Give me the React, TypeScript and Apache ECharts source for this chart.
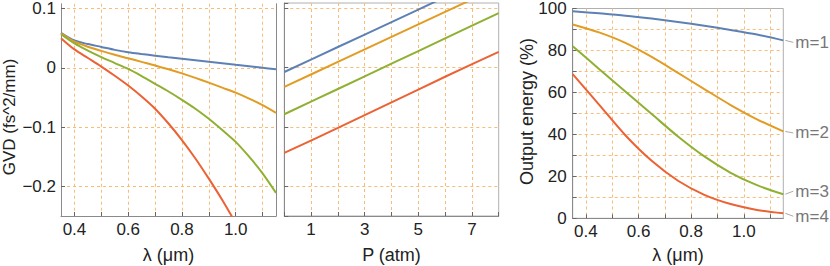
import React, { useEffect, useRef } from "react";
import * as echarts from "echarts";

// ---- data ----
const lambdaGvd = [0.35, 0.4, 0.45, 0.5, 0.55, 0.6, 0.65, 0.7, 0.75, 0.8, 0.85, 0.9, 0.95, 1.0, 1.05, 1.1, 1.15];
const gvdM1 = [0.059, 0.046, 0.04, 0.0352, 0.0302, 0.0262, 0.0232, 0.0205, 0.0178, 0.0152, 0.0127, 0.0102, 0.0077, 0.0052, 0.0027, 0.0001, -0.0026];
const gvdM2 = [0.058, 0.044, 0.0355, 0.0285, 0.022, 0.016, 0.01, 0.004, -0.0025, -0.0095, -0.017, -0.025, -0.0335, -0.042, -0.052, -0.063, -0.076];
const gvdM3 = [0.0565, 0.041, 0.029, 0.018, 0.008, -0.002, -0.014, -0.027, -0.04, -0.054, -0.069, -0.086, -0.105, -0.125, -0.15, -0.178, -0.211];
const gvdM4 = [0.05, 0.031, 0.0165, 0.002, -0.0135, -0.03, -0.0485, -0.069, -0.094, -0.122, -0.153, -0.187, -0.223, -0.262, -0.303];

const pressure = [0, 2, 4, 6, 8];
const pM1 = [-0.008, 0.034, 0.076, 0.118, 0.16];
const pM2 = [-0.033, 0.009, 0.051, 0.093, 0.135];
const pM3 = [-0.079, -0.0365, 0.006, 0.0485, 0.091];
const pM4 = [-0.144, -0.102, -0.059, -0.016, 0.026];

const lambdaEnergy = [0.35, 0.45, 0.55, 0.65, 0.75, 0.85, 0.95, 1.05, 1.15];
const energyM1 = [98.7, 97.7, 96.6, 95.2, 93.6, 91.8, 89.8, 87.6, 84.8];
const energyM2 = [92.4, 88.6, 83.6, 76.9, 69.3, 61.6, 54.0, 47.2, 41.4];
const energyM3 = [82.0, 71.2, 60.4, 49.7, 39.0, 29.5, 21.7, 15.8, 11.5];
const energyM4 = [68.7, 54.2, 39.6, 27.4, 17.9, 11.2, 6.8, 4.0, 2.4];

const modeLabels = ["m=1", "m=2", "m=3", "m=4"];
const labelDy = [2, 1.5, -3, 3];

const titleGVD = "GVD (fs^2/mm)";
const titleLambda = "\u03bb (\u03bcm)";
const titleP = "P (atm)";
const titleEnergy = "Output energy (%)";

const colors = ["#5E81B5", "#E19C24", "#8FB032", "#EB6235"];
const gridColor = "#F8BC78";
const frameColor = "#8a8a8a";
const font = "Liberation Sans, Arial, sans-serif";

const pairs = (xs: number[], ys: number[]) => ys.map((y, i) => [xs[i], y]);
const isMult = (v: number, step: number) => {
  const q = v / step;
  return Math.abs(q - Math.round(q)) < 1e-6;
};
const fmtNum = (v: number, d: number) => {
  const s = Math.abs(v) < 1e-9 ? "0" : Math.abs(v).toFixed(d);
  return v < -1e-9 ? "\u2212" + s : s;
};

export default function App() {
  const ref = useRef<HTMLDivElement>(null);
  useEffect(() => {
    if (!ref.current) return;
    const chart = echarts.init(ref.current, undefined, { renderer: "svg" });

    const splitLine = {
      show: true,
      showMinLine: false,
      showMaxLine: false,
      lineStyle: { color: gridColor, type: [3, 3] as any, width: 1 },
    };
    const axisLine = { show: true, onZero: false, lineStyle: { color: frameColor, width: 1 } };
    const axisTick = { show: true, inside: true, length: 4, lineStyle: { color: "#666" } };
    const tickLabel = { color: "#222", fontSize: 17, fontFamily: font };

    const lineSeries = (data: number[][], c: string, xi: number, yi: number) => ({
      type: "line",
      xAxisIndex: xi,
      yAxisIndex: yi,
      data,
      showSymbol: false,
      symbol: "none",
      smooth: 0.3,
      clip: true,
      lineStyle: { color: c, width: 2 },
      itemStyle: { color: c },
    });

    const gvdSets = [gvdM1, gvdM2, gvdM3, gvdM4];
    const pSets = [pM1, pM2, pM3, pM4];
    const eSets = [energyM1, energyM2, energyM3, energyM4];

    const series: any[] = [];
    gvdSets.forEach((s, i) => series.push(lineSeries(pairs(lambdaGvd, s), colors[i], 0, 0)));
    pSets.forEach((s, i) => series.push(lineSeries(pairs(pressure, s), colors[i], 1, 2)));
    eSets.forEach((s, i) => series.push(lineSeries(pairs(lambdaEnergy, s), colors[i], 2, 3)));

    const lambdaAxis = (gi: number) => ({
      type: "value",
      gridIndex: gi,
      min: 0.35,
      max: 1.15,
      splitNumber: 8,
      axisLine,
      axisTick,
      splitLine,
      axisLabel: {
        ...tickLabel,
        margin: 5,
        showMinLabel: false,
        showMaxLabel: false,
        formatter: (v: number) => (isMult(v, 0.2) && v > 0.36 && v < 1.14 ? v.toFixed(1) : ""),
      },
    });

    chart.setOption({
      animation: false,
      grid: [
        { left: 61, top: 3, width: 215, height: 213, show: false },
        { left: 284.3, top: 3, width: 214.4, height: 213, show: true, borderColor: "#b0b0b0", borderWidth: 1 },
        { left: 572.7, top: 7, width: 210.6, height: 211.3, show: true, borderColor: "#b0b0b0", borderWidth: 1 },
      ],
      xAxis: [
        lambdaAxis(0),
        {
          type: "value",
          gridIndex: 1,
          min: 0,
          max: 8,
          interval: 1,
          axisLine,
          axisTick,
          splitLine,
          axisLabel: {
            ...tickLabel,
            margin: 5,
            formatter: (v: number) => (Math.round(v) % 2 === 1 ? String(Math.round(v)) : ""),
          },
        },
        lambdaAxis(2),
      ],
      yAxis: [
        {
          type: "value",
          gridIndex: 0,
          min: -0.25,
          max: 0.108,
          axisLine,
          axisTick,
          splitLine,
          axisLabel: {
            ...tickLabel,
            margin: 5,
            showMinLabel: false,
            showMaxLabel: false,
            formatter: (v: number) => (isMult(v, 0.1) ? fmtNum(v, 1) : ""),
          },
        },
        {
          type: "value",
          gridIndex: 0,
          position: "right",
          min: -0.25,
          max: 0.108,
          axisLine,
          axisTick: { show: false },
          axisLabel: { show: false },
          splitLine: { show: false },
        },
        {
          type: "value",
          gridIndex: 1,
          min: -0.25,
          max: 0.108,
          axisLine,
          axisTick,
          splitLine,
          axisLabel: { show: false },
        },
        {
          type: "value",
          gridIndex: 2,
          min: 0,
          max: 100,
          interval: 10,
          axisLine,
          axisTick,
          splitLine,
          axisLabel: {
            ...tickLabel,
            margin: 6,
            formatter: (v: number) => (Math.round(v) % 20 === 0 ? String(Math.round(v)) : ""),
          },
        },
      ],
      series,
    });

    const titleStyle = (text: string, size: number) => ({
      text,
      fill: "#222",
      fontSize: size,
      fontFamily: font,
      align: "center",
      verticalAlign: "middle",
    });

    const graphics: any[] = [
      { type: "text", x: 9, y: 117, rotation: Math.PI / 2, style: titleStyle(titleGVD, 17) },
      { type: "text", x: 526.5, y: 111.5, rotation: Math.PI / 2, style: titleStyle(titleEnergy, 18) },
      { type: "text", x: 168.5, y: 255, style: titleStyle(titleLambda, 18) },
      { type: "text", x: 391.5, y: 255, style: titleStyle(titleP, 18) },
      { type: "text", x: 678, y: 255, style: titleStyle(titleLambda, 18) },
    ];
    eSets.forEach((s, i) => {
      const last = s.length - 1;
      const p = chart.convertToPixel({ gridIndex: 2 }, [lambdaEnergy[last], s[last]]) as number[];
      const ty = p[1] + labelDy[i];
      graphics.push({
        type: "line",
        shape: { x1: p[0] + 2, y1: p[1], x2: p[0] + 10, y2: ty },
        style: { stroke: "#aaa", lineWidth: 1 },
      });
      graphics.push({
        type: "text",
        x: p[0] + 12,
        y: ty,
        style: {
          text: modeLabels[i],
          fill: "#777",
          fontSize: 17,
          fontFamily: font,
          verticalAlign: "middle",
          align: "left",
        },
      });
    });
    chart.setOption({ graphic: graphics });

    return () => chart.dispose();
  }, []);
  return (
    <div
      ref={ref}
      style={{ position: "fixed", left: 0, top: 0, width: 830, height: 266, background: "#fff" }}
    />
  );
}
